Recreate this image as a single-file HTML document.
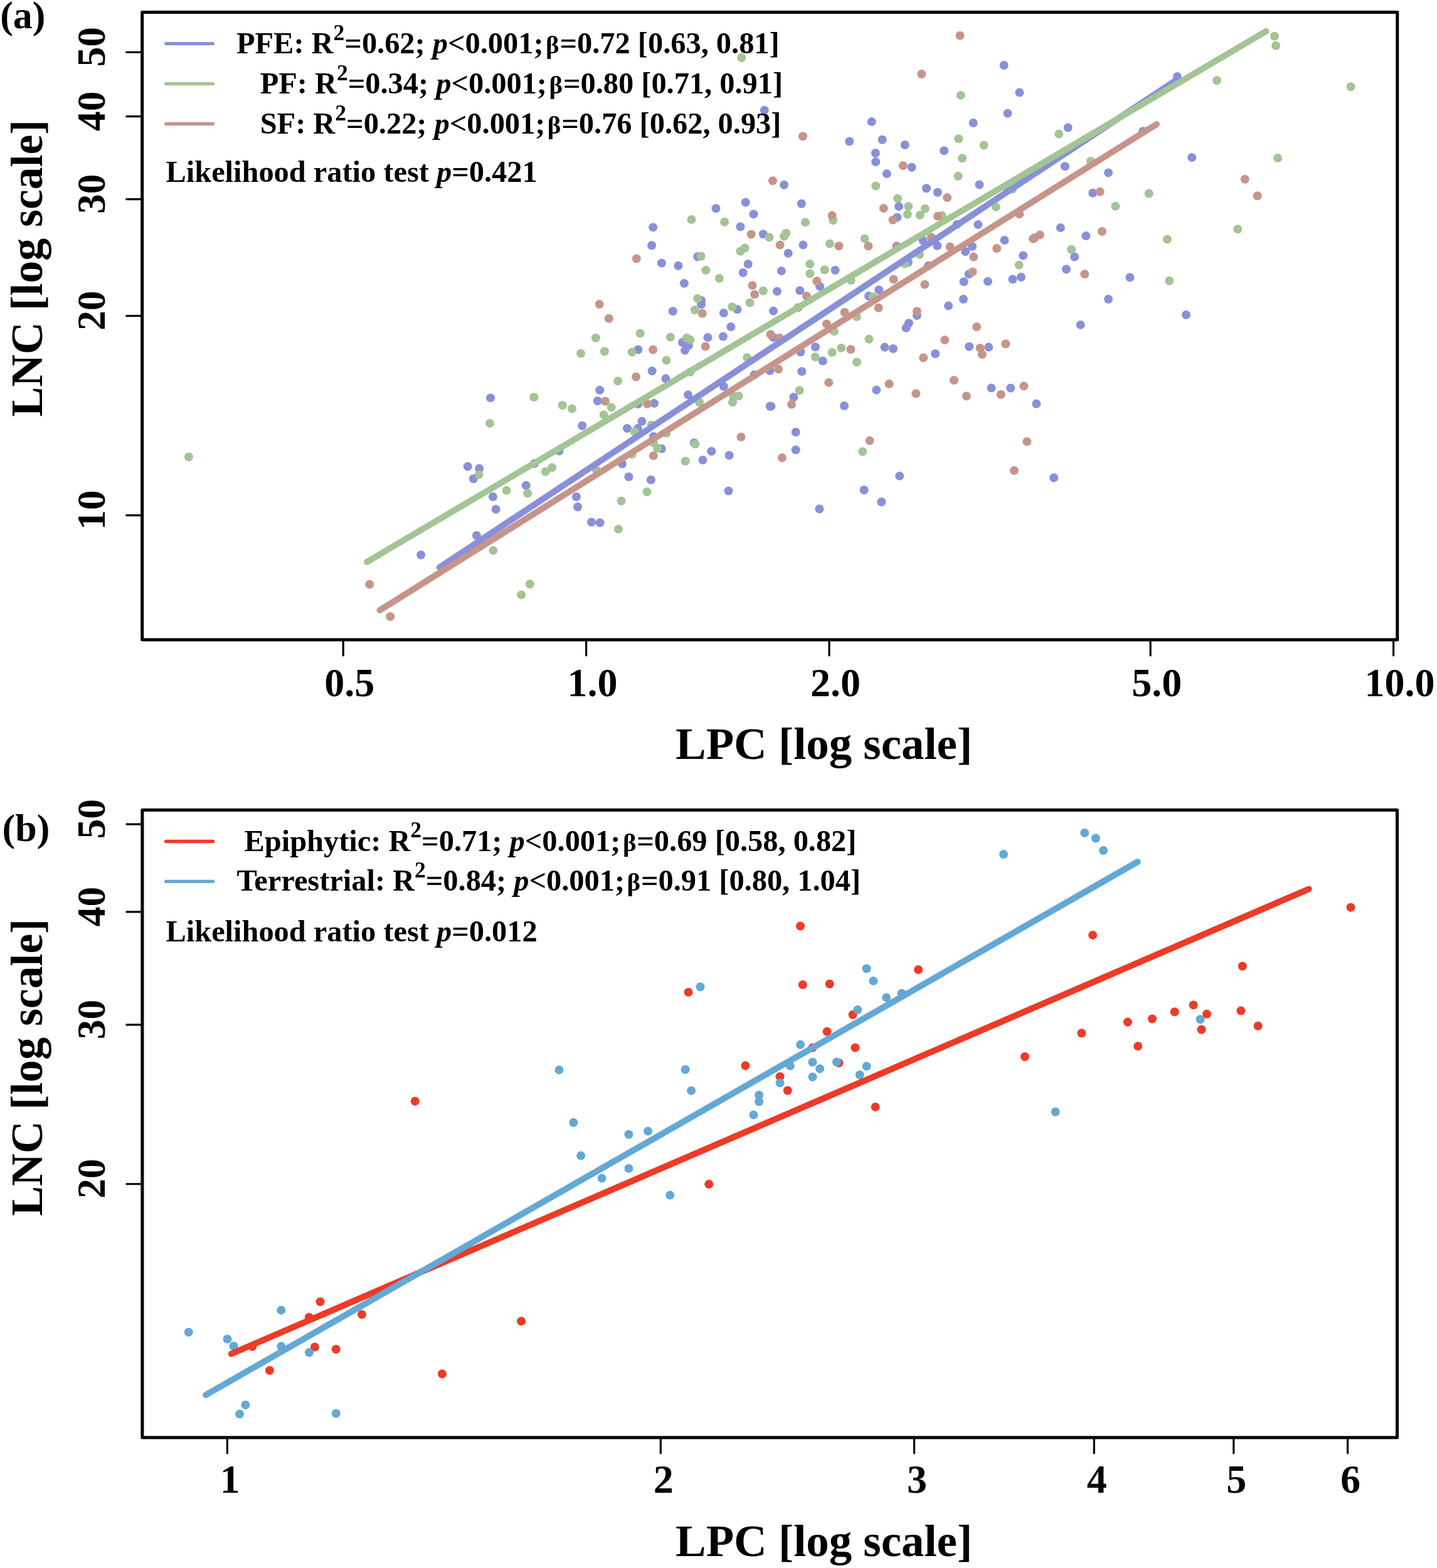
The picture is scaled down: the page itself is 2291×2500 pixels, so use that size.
<!DOCTYPE html><html><head><meta charset="utf-8"><title>LNC vs LPC</title><style>html,body{margin:0;padding:0;background:#fff;overflow:hidden}svg{display:block}</style></head><body><svg width="2291" height="2500" viewBox="0 0 2291 2500" font-family='"Liberation Serif", "Times New Roman", serif' font-weight="bold">
<rect width="2291" height="2500" fill="#fff"/>
<circle cx="671.1" cy="884.7" r="7.0" fill="#8890d9"/>
<circle cx="745.6" cy="743.7" r="7.0" fill="#8890d9"/>
<circle cx="764.2" cy="747.0" r="7.0" fill="#8890d9"/>
<circle cx="754.9" cy="763.2" r="7.0" fill="#8890d9"/>
<circle cx="785.9" cy="792.0" r="7.0" fill="#8890d9"/>
<circle cx="790.6" cy="812.0" r="7.0" fill="#8890d9"/>
<circle cx="838.7" cy="774.1" r="7.0" fill="#8890d9"/>
<circle cx="759.9" cy="853.8" r="7.0" fill="#8890d9"/>
<circle cx="851.9" cy="739.0" r="7.0" fill="#8890d9"/>
<circle cx="891.3" cy="719.1" r="7.0" fill="#8890d9"/>
<circle cx="918.9" cy="792.0" r="7.0" fill="#8890d9"/>
<circle cx="921.0" cy="808.3" r="7.0" fill="#8890d9"/>
<circle cx="943.0" cy="832.5" r="7.0" fill="#8890d9"/>
<circle cx="956.6" cy="833.4" r="7.0" fill="#8890d9"/>
<circle cx="782.0" cy="634.4" r="7.0" fill="#8890d9"/>
<circle cx="952.7" cy="639.2" r="7.0" fill="#8890d9"/>
<circle cx="928.2" cy="678.8" r="7.0" fill="#8890d9"/>
<circle cx="1184.7" cy="434.7" r="7.0" fill="#8890d9"/>
<circle cx="1245.8" cy="431.9" r="7.0" fill="#8890d9"/>
<circle cx="1331.6" cy="430.8" r="7.0" fill="#8890d9"/>
<circle cx="1090.9" cy="451.8" r="7.0" fill="#8890d9"/>
<circle cx="1307.1" cy="456.8" r="7.0" fill="#8890d9"/>
<circle cx="1238.9" cy="464.6" r="7.0" fill="#8890d9"/>
<circle cx="1275.2" cy="463.3" r="7.0" fill="#8890d9"/>
<circle cx="1118.0" cy="478.9" r="7.0" fill="#8890d9"/>
<circle cx="1118.0" cy="485.4" r="7.0" fill="#8890d9"/>
<circle cx="1175.4" cy="493.2" r="7.0" fill="#8890d9"/>
<circle cx="1072.8" cy="496.2" r="7.0" fill="#8890d9"/>
<circle cx="1153.8" cy="499.0" r="7.0" fill="#8890d9"/>
<circle cx="1233.0" cy="495.8" r="7.0" fill="#8890d9"/>
<circle cx="1165.2" cy="521.1" r="7.0" fill="#8890d9"/>
<circle cx="1087.9" cy="546.0" r="7.0" fill="#8890d9"/>
<circle cx="1097.7" cy="551.0" r="7.0" fill="#8890d9"/>
<circle cx="1092.0" cy="558.6" r="7.0" fill="#8890d9"/>
<circle cx="1128.4" cy="538.0" r="7.0" fill="#8890d9"/>
<circle cx="1152.9" cy="536.5" r="7.0" fill="#8890d9"/>
<circle cx="1232.8" cy="538.0" r="7.0" fill="#8890d9"/>
<circle cx="1299.9" cy="553.2" r="7.0" fill="#8890d9"/>
<circle cx="1276.3" cy="561.2" r="7.0" fill="#8890d9"/>
<circle cx="1311.8" cy="575.5" r="7.0" fill="#8890d9"/>
<circle cx="1017.3" cy="557.5" r="7.0" fill="#8890d9"/>
<circle cx="1039.6" cy="591.5" r="7.0" fill="#8890d9"/>
<circle cx="1061.3" cy="603.6" r="7.0" fill="#8890d9"/>
<circle cx="1227.4" cy="591.1" r="7.0" fill="#8890d9"/>
<circle cx="1202.5" cy="597.6" r="7.0" fill="#8890d9"/>
<circle cx="1278.3" cy="592.2" r="7.0" fill="#8890d9"/>
<circle cx="1153.8" cy="616.0" r="7.0" fill="#8890d9"/>
<circle cx="1097.0" cy="629.6" r="7.0" fill="#8890d9"/>
<circle cx="956.2" cy="622.1" r="7.0" fill="#8890d9"/>
<circle cx="1017.3" cy="644.1" r="7.0" fill="#8890d9"/>
<circle cx="1042.9" cy="643.1" r="7.0" fill="#8890d9"/>
<circle cx="1265.3" cy="633.3" r="7.0" fill="#8890d9"/>
<circle cx="1227.6" cy="647.7" r="7.0" fill="#8890d9"/>
<circle cx="1229.3" cy="647.7" r="7.0" fill="#8890d9"/>
<circle cx="1023.4" cy="671.7" r="7.0" fill="#8890d9"/>
<circle cx="1000.0" cy="683.1" r="7.0" fill="#8890d9"/>
<circle cx="1016.9" cy="683.1" r="7.0" fill="#8890d9"/>
<circle cx="1041.8" cy="696.1" r="7.0" fill="#8890d9"/>
<circle cx="1054.8" cy="715.6" r="7.0" fill="#8890d9"/>
<circle cx="1106.8" cy="705.9" r="7.0" fill="#8890d9"/>
<circle cx="1268.7" cy="689.0" r="7.0" fill="#8890d9"/>
<circle cx="992.0" cy="739.6" r="7.0" fill="#8890d9"/>
<circle cx="1134.3" cy="719.5" r="7.0" fill="#8890d9"/>
<circle cx="1162.6" cy="726.0" r="7.0" fill="#8890d9"/>
<circle cx="1120.4" cy="733.6" r="7.0" fill="#8890d9"/>
<circle cx="1268.7" cy="717.3" r="7.0" fill="#8890d9"/>
<circle cx="1002.4" cy="760.2" r="7.0" fill="#8890d9"/>
<circle cx="1037.9" cy="765.0" r="7.0" fill="#8890d9"/>
<circle cx="1161.5" cy="782.7" r="7.0" fill="#8890d9"/>
<circle cx="1306.4" cy="811.5" r="7.0" fill="#8890d9"/>
<circle cx="1218.7" cy="175.7" r="7.0" fill="#8890d9"/>
<circle cx="1250.1" cy="294.8" r="7.0" fill="#8890d9"/>
<circle cx="1188.6" cy="322.6" r="7.0" fill="#8890d9"/>
<circle cx="1277.8" cy="324.7" r="7.0" fill="#8890d9"/>
<circle cx="1141.4" cy="332.3" r="7.0" fill="#8890d9"/>
<circle cx="1201.4" cy="341.4" r="7.0" fill="#8890d9"/>
<circle cx="1041.1" cy="362.4" r="7.0" fill="#8890d9"/>
<circle cx="1180.4" cy="361.5" r="7.0" fill="#8890d9"/>
<circle cx="1216.8" cy="373.2" r="7.0" fill="#8890d9"/>
<circle cx="1039.0" cy="391.2" r="7.0" fill="#8890d9"/>
<circle cx="1280.4" cy="390.6" r="7.0" fill="#8890d9"/>
<circle cx="1256.6" cy="403.8" r="7.0" fill="#8890d9"/>
<circle cx="1112.2" cy="409.2" r="7.0" fill="#8890d9"/>
<circle cx="1054.8" cy="419.4" r="7.0" fill="#8890d9"/>
<circle cx="1081.4" cy="423.7" r="7.0" fill="#8890d9"/>
<circle cx="1192.7" cy="421.1" r="7.0" fill="#8890d9"/>
<circle cx="1625.4" cy="147.6" r="7.0" fill="#8890d9"/>
<circle cx="1606.5" cy="180.7" r="7.0" fill="#8890d9"/>
<circle cx="1389.7" cy="194.1" r="7.0" fill="#8890d9"/>
<circle cx="1551.7" cy="195.9" r="7.0" fill="#8890d9"/>
<circle cx="1702.7" cy="203.5" r="7.0" fill="#8890d9"/>
<circle cx="1354.2" cy="225.5" r="7.0" fill="#8890d9"/>
<circle cx="1406.6" cy="222.7" r="7.0" fill="#8890d9"/>
<circle cx="1442.8" cy="231.0" r="7.0" fill="#8890d9"/>
<circle cx="1505.2" cy="240.3" r="7.0" fill="#8890d9"/>
<circle cx="1395.8" cy="244.0" r="7.0" fill="#8890d9"/>
<circle cx="1396.2" cy="258.0" r="7.0" fill="#8890d9"/>
<circle cx="1453.6" cy="266.7" r="7.0" fill="#8890d9"/>
<circle cx="1413.8" cy="276.9" r="7.0" fill="#8890d9"/>
<circle cx="1697.9" cy="265.2" r="7.0" fill="#8890d9"/>
<circle cx="1561.5" cy="294.4" r="7.0" fill="#8890d9"/>
<circle cx="1477.0" cy="300.3" r="7.0" fill="#8890d9"/>
<circle cx="1494.8" cy="306.8" r="7.0" fill="#8890d9"/>
<circle cx="1607.0" cy="302.5" r="7.0" fill="#8890d9"/>
<circle cx="1433.0" cy="329.1" r="7.0" fill="#8890d9"/>
<circle cx="1430.4" cy="346.8" r="7.0" fill="#8890d9"/>
<circle cx="1525.7" cy="357.7" r="7.0" fill="#8890d9"/>
<circle cx="1559.3" cy="358.1" r="7.0" fill="#8890d9"/>
<circle cx="1690.8" cy="363.1" r="7.0" fill="#8890d9"/>
<circle cx="1471.6" cy="383.6" r="7.0" fill="#8890d9"/>
<circle cx="1494.3" cy="391.7" r="7.0" fill="#8890d9"/>
<circle cx="1550.0" cy="393.0" r="7.0" fill="#8890d9"/>
<circle cx="1539.2" cy="401.0" r="7.0" fill="#8890d9"/>
<circle cx="1601.5" cy="383.0" r="7.0" fill="#8890d9"/>
<circle cx="1649.2" cy="379.3" r="7.0" fill="#8890d9"/>
<circle cx="1447.8" cy="418.3" r="7.0" fill="#8890d9"/>
<circle cx="1480.3" cy="423.7" r="7.0" fill="#8890d9"/>
<circle cx="1631.2" cy="407.5" r="7.0" fill="#8890d9"/>
<circle cx="1713.1" cy="409.6" r="7.0" fill="#8890d9"/>
<circle cx="1700.0" cy="429.2" r="7.0" fill="#8890d9"/>
<circle cx="1544.7" cy="437.0" r="7.0" fill="#8890d9"/>
<circle cx="1536.6" cy="449.2" r="7.0" fill="#8890d9"/>
<circle cx="1574.9" cy="448.8" r="7.0" fill="#8890d9"/>
<circle cx="1614.5" cy="445.3" r="7.0" fill="#8890d9"/>
<circle cx="1628.0" cy="441.7" r="7.0" fill="#8890d9"/>
<circle cx="1401.2" cy="462.2" r="7.0" fill="#8890d9"/>
<circle cx="1385.0" cy="472.0" r="7.0" fill="#8890d9"/>
<circle cx="1535.9" cy="477.0" r="7.0" fill="#8890d9"/>
<circle cx="1512.1" cy="487.6" r="7.0" fill="#8890d9"/>
<circle cx="1461.9" cy="502.9" r="7.0" fill="#8890d9"/>
<circle cx="1448.9" cy="515.3" r="7.0" fill="#8890d9"/>
<circle cx="1444.5" cy="522.9" r="7.0" fill="#8890d9"/>
<circle cx="1410.5" cy="553.6" r="7.0" fill="#8890d9"/>
<circle cx="1424.0" cy="556.0" r="7.0" fill="#8890d9"/>
<circle cx="1545.2" cy="552.5" r="7.0" fill="#8890d9"/>
<circle cx="1576.2" cy="553.6" r="7.0" fill="#8890d9"/>
<circle cx="1491.1" cy="564.0" r="7.0" fill="#8890d9"/>
<circle cx="1397.3" cy="621.8" r="7.0" fill="#8890d9"/>
<circle cx="1580.5" cy="618.6" r="7.0" fill="#8890d9"/>
<circle cx="1611.3" cy="618.8" r="7.0" fill="#8890d9"/>
<circle cx="1652.4" cy="643.7" r="7.0" fill="#8890d9"/>
<circle cx="1346.0" cy="647.0" r="7.0" fill="#8890d9"/>
<circle cx="1434.1" cy="758.9" r="7.0" fill="#8890d9"/>
<circle cx="1377.6" cy="781.2" r="7.0" fill="#8890d9"/>
<circle cx="1405.3" cy="800.3" r="7.0" fill="#8890d9"/>
<circle cx="1680.2" cy="761.7" r="7.0" fill="#8890d9"/>
<circle cx="1822.4" cy="209.3" r="7.0" fill="#8890d9"/>
<circle cx="1767.1" cy="275.4" r="7.0" fill="#8890d9"/>
<circle cx="1900.3" cy="251.1" r="7.0" fill="#8890d9"/>
<circle cx="1742.2" cy="307.8" r="7.0" fill="#8890d9"/>
<circle cx="1731.4" cy="376.1" r="7.0" fill="#8890d9"/>
<circle cx="1801.4" cy="442.3" r="7.0" fill="#8890d9"/>
<circle cx="1767.1" cy="477.0" r="7.0" fill="#8890d9"/>
<circle cx="1891.0" cy="501.9" r="7.0" fill="#8890d9"/>
<circle cx="1722.7" cy="517.9" r="7.0" fill="#8890d9"/>
<circle cx="1600.6" cy="104.0" r="7.0" fill="#8890d9"/>
<circle cx="1876.9" cy="121.9" r="7.0" fill="#8890d9"/>
<circle cx="763.6" cy="756.7" r="7.0" fill="#a3c494"/>
<circle cx="807.5" cy="781.9" r="7.0" fill="#a3c494"/>
<circle cx="841.1" cy="786.6" r="7.0" fill="#a3c494"/>
<circle cx="786.3" cy="877.6" r="7.0" fill="#a3c494"/>
<circle cx="844.8" cy="931.3" r="7.0" fill="#a3c494"/>
<circle cx="831.1" cy="948.4" r="7.0" fill="#a3c494"/>
<circle cx="869.7" cy="752.0" r="7.0" fill="#a3c494"/>
<circle cx="880.1" cy="745.5" r="7.0" fill="#a3c494"/>
<circle cx="950.9" cy="749.8" r="7.0" fill="#a3c494"/>
<circle cx="949.8" cy="538.7" r="7.0" fill="#a3c494"/>
<circle cx="926.0" cy="563.6" r="7.0" fill="#a3c494"/>
<circle cx="851.3" cy="633.3" r="7.0" fill="#a3c494"/>
<circle cx="896.8" cy="646.3" r="7.0" fill="#a3c494"/>
<circle cx="911.9" cy="651.7" r="7.0" fill="#a3c494"/>
<circle cx="780.9" cy="674.9" r="7.0" fill="#a3c494"/>
<circle cx="1125.2" cy="430.8" r="7.0" fill="#a3c494"/>
<circle cx="1291.3" cy="436.2" r="7.0" fill="#a3c494"/>
<circle cx="1314.7" cy="430.2" r="7.0" fill="#a3c494"/>
<circle cx="1146.8" cy="443.8" r="7.0" fill="#a3c494"/>
<circle cx="1216.8" cy="463.7" r="7.0" fill="#a3c494"/>
<circle cx="1112.2" cy="475.9" r="7.0" fill="#a3c494"/>
<circle cx="1195.5" cy="482.8" r="7.0" fill="#a3c494"/>
<circle cx="1167.4" cy="489.3" r="7.0" fill="#a3c494"/>
<circle cx="1107.8" cy="494.3" r="7.0" fill="#a3c494"/>
<circle cx="1020.6" cy="531.5" r="7.0" fill="#a3c494"/>
<circle cx="1068.9" cy="537.6" r="7.0" fill="#a3c494"/>
<circle cx="1094.8" cy="538.7" r="7.0" fill="#a3c494"/>
<circle cx="1100.3" cy="541.7" r="7.0" fill="#a3c494"/>
<circle cx="1329.8" cy="528.3" r="7.0" fill="#a3c494"/>
<circle cx="1326.6" cy="561.9" r="7.0" fill="#a3c494"/>
<circle cx="1299.9" cy="569.0" r="7.0" fill="#a3c494"/>
<circle cx="963.8" cy="560.3" r="7.0" fill="#a3c494"/>
<circle cx="1007.6" cy="561.4" r="7.0" fill="#a3c494"/>
<circle cx="1062.4" cy="574.4" r="7.0" fill="#a3c494"/>
<circle cx="1191.2" cy="570.1" r="7.0" fill="#a3c494"/>
<circle cx="985.0" cy="607.5" r="7.0" fill="#a3c494"/>
<circle cx="1100.3" cy="593.3" r="7.0" fill="#a3c494"/>
<circle cx="1274.6" cy="622.5" r="7.0" fill="#a3c494"/>
<circle cx="974.7" cy="649.6" r="7.0" fill="#a3c494"/>
<circle cx="1115.0" cy="641.3" r="7.0" fill="#a3c494"/>
<circle cx="1169.1" cy="631.2" r="7.0" fill="#a3c494"/>
<circle cx="1177.6" cy="631.2" r="7.0" fill="#a3c494"/>
<circle cx="1168.0" cy="641.3" r="7.0" fill="#a3c494"/>
<circle cx="962.7" cy="661.5" r="7.0" fill="#a3c494"/>
<circle cx="1011.5" cy="688.5" r="7.0" fill="#a3c494"/>
<circle cx="1038.5" cy="677.7" r="7.0" fill="#a3c494"/>
<circle cx="1062.4" cy="690.7" r="7.0" fill="#a3c494"/>
<circle cx="1041.8" cy="705.9" r="7.0" fill="#a3c494"/>
<circle cx="1048.3" cy="714.5" r="7.0" fill="#a3c494"/>
<circle cx="1108.3" cy="708.0" r="7.0" fill="#a3c494"/>
<circle cx="1007.6" cy="724.3" r="7.0" fill="#a3c494"/>
<circle cx="1092.7" cy="735.3" r="7.0" fill="#a3c494"/>
<circle cx="1031.4" cy="784.0" r="7.0" fill="#a3c494"/>
<circle cx="990.5" cy="798.8" r="7.0" fill="#a3c494"/>
<circle cx="985.9" cy="843.6" r="7.0" fill="#a3c494"/>
<circle cx="1328.1" cy="351.2" r="7.0" fill="#a3c494"/>
<circle cx="1102.4" cy="350.1" r="7.0" fill="#a3c494"/>
<circle cx="1155.1" cy="354.0" r="7.0" fill="#a3c494"/>
<circle cx="1283.9" cy="354.4" r="7.0" fill="#a3c494"/>
<circle cx="1226.5" cy="378.2" r="7.0" fill="#a3c494"/>
<circle cx="1253.4" cy="371.7" r="7.0" fill="#a3c494"/>
<circle cx="1250.1" cy="376.7" r="7.0" fill="#a3c494"/>
<circle cx="1322.9" cy="388.6" r="7.0" fill="#a3c494"/>
<circle cx="1187.5" cy="395.5" r="7.0" fill="#a3c494"/>
<circle cx="1180.4" cy="400.5" r="7.0" fill="#a3c494"/>
<circle cx="1117.6" cy="408.5" r="7.0" fill="#a3c494"/>
<circle cx="1291.3" cy="420.9" r="7.0" fill="#a3c494"/>
<circle cx="1531.8" cy="151.9" r="7.0" fill="#a3c494"/>
<circle cx="1688.2" cy="213.6" r="7.0" fill="#a3c494"/>
<circle cx="1528.3" cy="221.2" r="7.0" fill="#a3c494"/>
<circle cx="1568.6" cy="231.4" r="7.0" fill="#a3c494"/>
<circle cx="1534.0" cy="252.2" r="7.0" fill="#a3c494"/>
<circle cx="1527.5" cy="280.8" r="7.0" fill="#a3c494"/>
<circle cx="1396.2" cy="296.4" r="7.0" fill="#a3c494"/>
<circle cx="1614.0" cy="301.5" r="7.0" fill="#a3c494"/>
<circle cx="1431.1" cy="316.5" r="7.0" fill="#a3c494"/>
<circle cx="1448.2" cy="329.1" r="7.0" fill="#a3c494"/>
<circle cx="1474.8" cy="332.7" r="7.0" fill="#a3c494"/>
<circle cx="1446.7" cy="341.8" r="7.0" fill="#a3c494"/>
<circle cx="1466.8" cy="343.1" r="7.0" fill="#a3c494"/>
<circle cx="1501.5" cy="343.6" r="7.0" fill="#a3c494"/>
<circle cx="1587.9" cy="329.9" r="7.0" fill="#a3c494"/>
<circle cx="1378.5" cy="380.4" r="7.0" fill="#a3c494"/>
<circle cx="1466.2" cy="405.9" r="7.0" fill="#a3c494"/>
<circle cx="1442.4" cy="420.5" r="7.0" fill="#a3c494"/>
<circle cx="1708.1" cy="397.7" r="7.0" fill="#a3c494"/>
<circle cx="1624.7" cy="422.6" r="7.0" fill="#a3c494"/>
<circle cx="1356.8" cy="447.1" r="7.0" fill="#a3c494"/>
<circle cx="1391.5" cy="473.1" r="7.0" fill="#a3c494"/>
<circle cx="1365.9" cy="505.1" r="7.0" fill="#a3c494"/>
<circle cx="1385.4" cy="540.8" r="7.0" fill="#a3c494"/>
<circle cx="1341.2" cy="554.7" r="7.0" fill="#a3c494"/>
<circle cx="1366.1" cy="577.4" r="7.0" fill="#a3c494"/>
<circle cx="1375.2" cy="720.1" r="7.0" fill="#a3c494"/>
<circle cx="1739.0" cy="256.9" r="7.0" fill="#a3c494"/>
<circle cx="2037.2" cy="252.0" r="7.0" fill="#a3c494"/>
<circle cx="1831.7" cy="308.5" r="7.0" fill="#a3c494"/>
<circle cx="1778.4" cy="328.8" r="7.0" fill="#a3c494"/>
<circle cx="1973.3" cy="365.2" r="7.0" fill="#a3c494"/>
<circle cx="1860.9" cy="381.5" r="7.0" fill="#a3c494"/>
<circle cx="1864.2" cy="447.7" r="7.0" fill="#a3c494"/>
<circle cx="1940.0" cy="128.2" r="7.0" fill="#a3c494"/>
<circle cx="2032.0" cy="57.7" r="7.0" fill="#a3c494"/>
<circle cx="2034.1" cy="72.7" r="7.0" fill="#a3c494"/>
<circle cx="2153.5" cy="138.3" r="7.0" fill="#a3c494"/>
<circle cx="1182.2" cy="92.0" r="7.0" fill="#a3c494"/>
<circle cx="300.9" cy="728.5" r="7.0" fill="#a3c494"/>
<circle cx="589.2" cy="931.7" r="7.0" fill="#c6958a"/>
<circle cx="622.2" cy="983.1" r="7.0" fill="#c6958a"/>
<circle cx="1199.4" cy="455.1" r="7.0" fill="#c6958a"/>
<circle cx="1302.3" cy="448.2" r="7.0" fill="#c6958a"/>
<circle cx="1203.1" cy="469.4" r="7.0" fill="#c6958a"/>
<circle cx="1285.9" cy="472.0" r="7.0" fill="#c6958a"/>
<circle cx="955.6" cy="485.0" r="7.0" fill="#c6958a"/>
<circle cx="1119.8" cy="499.7" r="7.0" fill="#c6958a"/>
<circle cx="1272.4" cy="490.4" r="7.0" fill="#c6958a"/>
<circle cx="970.8" cy="507.7" r="7.0" fill="#c6958a"/>
<circle cx="1124.7" cy="552.5" r="7.0" fill="#c6958a"/>
<circle cx="1228.5" cy="533.0" r="7.0" fill="#c6958a"/>
<circle cx="1242.8" cy="538.7" r="7.0" fill="#c6958a"/>
<circle cx="1317.9" cy="516.4" r="7.0" fill="#c6958a"/>
<circle cx="1041.1" cy="557.5" r="7.0" fill="#c6958a"/>
<circle cx="1014.1" cy="600.8" r="7.0" fill="#c6958a"/>
<circle cx="1241.0" cy="588.5" r="7.0" fill="#c6958a"/>
<circle cx="1321.2" cy="609.9" r="7.0" fill="#c6958a"/>
<circle cx="964.9" cy="639.8" r="7.0" fill="#c6958a"/>
<circle cx="1032.0" cy="644.1" r="7.0" fill="#c6958a"/>
<circle cx="1262.0" cy="644.8" r="7.0" fill="#c6958a"/>
<circle cx="1181.5" cy="696.8" r="7.0" fill="#c6958a"/>
<circle cx="1041.8" cy="726.6" r="7.0" fill="#c6958a"/>
<circle cx="1246.9" cy="729.9" r="7.0" fill="#c6958a"/>
<circle cx="1280.0" cy="217.3" r="7.0" fill="#c6958a"/>
<circle cx="1231.9" cy="288.3" r="7.0" fill="#c6958a"/>
<circle cx="1326.6" cy="343.6" r="7.0" fill="#c6958a"/>
<circle cx="1197.7" cy="373.5" r="7.0" fill="#c6958a"/>
<circle cx="1243.6" cy="390.6" r="7.0" fill="#c6958a"/>
<circle cx="1337.4" cy="392.3" r="7.0" fill="#c6958a"/>
<circle cx="1014.7" cy="412.4" r="7.0" fill="#c6958a"/>
<circle cx="1439.8" cy="264.1" r="7.0" fill="#c6958a"/>
<circle cx="1510.1" cy="315.0" r="7.0" fill="#c6958a"/>
<circle cx="1408.8" cy="332.1" r="7.0" fill="#c6958a"/>
<circle cx="1423.5" cy="350.7" r="7.0" fill="#c6958a"/>
<circle cx="1495.0" cy="344.7" r="7.0" fill="#c6958a"/>
<circle cx="1625.4" cy="341.4" r="7.0" fill="#c6958a"/>
<circle cx="1384.3" cy="392.3" r="7.0" fill="#c6958a"/>
<circle cx="1429.4" cy="392.3" r="7.0" fill="#c6958a"/>
<circle cx="1484.6" cy="378.2" r="7.0" fill="#c6958a"/>
<circle cx="1514.5" cy="393.4" r="7.0" fill="#c6958a"/>
<circle cx="1552.2" cy="409.6" r="7.0" fill="#c6958a"/>
<circle cx="1589.2" cy="396.0" r="7.0" fill="#c6958a"/>
<circle cx="1647.0" cy="380.8" r="7.0" fill="#c6958a"/>
<circle cx="1657.8" cy="374.5" r="7.0" fill="#c6958a"/>
<circle cx="1550.6" cy="433.4" r="7.0" fill="#c6958a"/>
<circle cx="1424.6" cy="445.3" r="7.0" fill="#c6958a"/>
<circle cx="1474.4" cy="453.6" r="7.0" fill="#c6958a"/>
<circle cx="1400.6" cy="490.8" r="7.0" fill="#c6958a"/>
<circle cx="1346.6" cy="498.0" r="7.0" fill="#c6958a"/>
<circle cx="1461.9" cy="496.4" r="7.0" fill="#c6958a"/>
<circle cx="1557.1" cy="521.1" r="7.0" fill="#c6958a"/>
<circle cx="1506.2" cy="541.9" r="7.0" fill="#c6958a"/>
<circle cx="1356.4" cy="557.1" r="7.0" fill="#c6958a"/>
<circle cx="1562.6" cy="554.9" r="7.0" fill="#c6958a"/>
<circle cx="1565.8" cy="565.1" r="7.0" fill="#c6958a"/>
<circle cx="1603.3" cy="548.2" r="7.0" fill="#c6958a"/>
<circle cx="1472.2" cy="570.5" r="7.0" fill="#c6958a"/>
<circle cx="1417.5" cy="612.1" r="7.0" fill="#c6958a"/>
<circle cx="1460.3" cy="627.5" r="7.0" fill="#c6958a"/>
<circle cx="1521.0" cy="606.2" r="7.0" fill="#c6958a"/>
<circle cx="1540.9" cy="631.6" r="7.0" fill="#c6958a"/>
<circle cx="1595.7" cy="629.0" r="7.0" fill="#c6958a"/>
<circle cx="1632.3" cy="615.6" r="7.0" fill="#c6958a"/>
<circle cx="1386.5" cy="702.6" r="7.0" fill="#c6958a"/>
<circle cx="1637.3" cy="704.1" r="7.0" fill="#c6958a"/>
<circle cx="1616.9" cy="750.2" r="7.0" fill="#c6958a"/>
<circle cx="1984.8" cy="285.7" r="7.0" fill="#c6958a"/>
<circle cx="2004.7" cy="312.2" r="7.0" fill="#c6958a"/>
<circle cx="1753.7" cy="305.7" r="7.0" fill="#c6958a"/>
<circle cx="1757.0" cy="369.1" r="7.0" fill="#c6958a"/>
<circle cx="1729.3" cy="437.1" r="7.0" fill="#c6958a"/>
<circle cx="1530.5" cy="56.7" r="7.0" fill="#c6958a"/>
<circle cx="1469.3" cy="118.1" r="7.0" fill="#c6958a"/>
<line x1="700.8" y1="904.6" x2="1877" y2="126.6" stroke="#8890d9" stroke-width="10.0" stroke-linecap="round"/>
<line x1="584.9" y1="896.0" x2="2018.6" y2="49.8" stroke="#a3c494" stroke-width="10.0" stroke-linecap="round"/>
<line x1="605.5" y1="972.9" x2="1844.0" y2="198.0" stroke="#c6958a" stroke-width="10.0" stroke-linecap="round"/>
<rect x="226.70" y="19.60" width="2001.10" height="1000.40" fill="none" stroke="#000" stroke-width="5.0" stroke-linejoin="round"/>
<line x1="547.17" y1="1020.00" x2="547.17" y2="1045.00" stroke="#000" stroke-width="3.2" stroke-linecap="round"/>
<text x="557.17" y="1110.10" font-size="64" text-anchor="middle">0.5</text>
<line x1="934.60" y1="1020.00" x2="934.60" y2="1045.00" stroke="#000" stroke-width="3.2" stroke-linecap="round"/>
<text x="944.60" y="1110.10" font-size="64" text-anchor="middle">1.0</text>
<line x1="1322.03" y1="1020.00" x2="1322.03" y2="1045.00" stroke="#000" stroke-width="3.2" stroke-linecap="round"/>
<text x="1332.03" y="1110.10" font-size="64" text-anchor="middle">2.0</text>
<line x1="1834.17" y1="1020.00" x2="1834.17" y2="1045.00" stroke="#000" stroke-width="3.2" stroke-linecap="round"/>
<text x="1844.17" y="1110.10" font-size="64" text-anchor="middle">5.0</text>
<line x1="2221.60" y1="1020.00" x2="2221.60" y2="1045.00" stroke="#000" stroke-width="3.2" stroke-linecap="round"/>
<text x="2231.60" y="1110.10" font-size="64" text-anchor="middle">10.0</text>
<line x1="226.70" y1="821.70" x2="201.70" y2="821.70" stroke="#000" stroke-width="3.2" stroke-linecap="round"/>
<text transform="translate(166.80,813.30) rotate(-90)" font-size="63.5" text-anchor="middle">10</text>
<line x1="226.70" y1="503.66" x2="201.70" y2="503.66" stroke="#000" stroke-width="3.2" stroke-linecap="round"/>
<text transform="translate(166.80,495.26) rotate(-90)" font-size="63.5" text-anchor="middle">20</text>
<line x1="226.70" y1="317.62" x2="201.70" y2="317.62" stroke="#000" stroke-width="3.2" stroke-linecap="round"/>
<text transform="translate(166.80,309.22) rotate(-90)" font-size="63.5" text-anchor="middle">30</text>
<line x1="226.70" y1="185.62" x2="201.70" y2="185.62" stroke="#000" stroke-width="3.2" stroke-linecap="round"/>
<text transform="translate(166.80,177.22) rotate(-90)" font-size="63.5" text-anchor="middle">40</text>
<line x1="226.70" y1="83.24" x2="201.70" y2="83.24" stroke="#000" stroke-width="3.2" stroke-linecap="round"/>
<text transform="translate(166.80,74.84) rotate(-90)" font-size="63.5" text-anchor="middle">50</text>
<text x="0.2" y="45.3" font-size="62">(a)</text>
<text x="1077.1" y="1210.2" font-size="72.8">LPC [log scale]</text>
<text transform="translate(66.6,664.6) rotate(-90)" font-size="71.7">LNC [log scale]</text>
<line x1="264.7" y1="69.6" x2="339.4" y2="69.6" stroke="#8890d9" stroke-width="5.4" stroke-linecap="round"/>
<line x1="264.7" y1="133.6" x2="339.4" y2="133.6" stroke="#a3c494" stroke-width="5.4" stroke-linecap="round"/>
<line x1="264.7" y1="197.5" x2="339.4" y2="197.5" stroke="#c6958a" stroke-width="5.4" stroke-linecap="round"/>
<text x="377.0" y="85.0" font-size="48.4">PFE: R<tspan font-size="35.5" dy="-21.5">2</tspan><tspan dy="21.5">=0.62; </tspan><tspan font-style="italic">p</tspan>&lt;0.001;<tspan font-size="41" dx="3.5">β</tspan><tspan dx="0.8">=0.72 [0.63, 0.81]</tspan></text>
<text x="414.7" y="149.0" font-size="48.4">PF: R<tspan font-size="35.5" dy="-21.5">2</tspan><tspan dy="21.5">=0.34; </tspan><tspan font-style="italic">p</tspan>&lt;0.001;<tspan font-size="41" dx="3.5">β</tspan><tspan dx="0.8">=0.80 [0.71, 0.91]</tspan></text>
<text x="414.7" y="213.0" font-size="48.4">SF: R<tspan font-size="35.5" dy="-21.5">2</tspan><tspan dy="21.5">=0.22; </tspan><tspan font-style="italic">p</tspan>&lt;0.001;<tspan font-size="41" dx="3.5">β</tspan><tspan dx="0.8">=0.76 [0.62, 0.93]</tspan></text>
<text x="264.5" y="290" font-size="48.4">Likelihood ratio test <tspan font-style="italic">p</tspan>=0.421</text>
<circle cx="402.3" cy="2147.1" r="7.0" fill="#ee3a26"/>
<circle cx="492.9" cy="2100.3" r="7.0" fill="#ee3a26"/>
<circle cx="510.5" cy="2075.4" r="7.0" fill="#ee3a26"/>
<circle cx="501.9" cy="2147.7" r="7.0" fill="#ee3a26"/>
<circle cx="535.7" cy="2151.2" r="7.0" fill="#ee3a26"/>
<circle cx="576.9" cy="2095.7" r="7.0" fill="#ee3a26"/>
<circle cx="429.9" cy="2185.0" r="7.0" fill="#ee3a26"/>
<circle cx="704.9" cy="2190.5" r="7.0" fill="#ee3a26"/>
<circle cx="831.1" cy="2106.5" r="7.0" fill="#ee3a26"/>
<circle cx="1188.4" cy="1699.1" r="7.0" fill="#ee3a26"/>
<circle cx="1130.2" cy="1888.0" r="7.0" fill="#ee3a26"/>
<circle cx="1279.8" cy="1570.0" r="7.0" fill="#ee3a26"/>
<circle cx="1322.6" cy="1568.7" r="7.0" fill="#ee3a26"/>
<circle cx="1359.6" cy="1617.7" r="7.0" fill="#ee3a26"/>
<circle cx="1318.5" cy="1644.7" r="7.0" fill="#ee3a26"/>
<circle cx="1295.5" cy="1670.4" r="7.0" fill="#ee3a26"/>
<circle cx="1363.4" cy="1670.4" r="7.0" fill="#ee3a26"/>
<circle cx="1337.4" cy="1694.8" r="7.0" fill="#ee3a26"/>
<circle cx="1243.5" cy="1716.5" r="7.0" fill="#ee3a26"/>
<circle cx="1255.7" cy="1738.7" r="7.0" fill="#ee3a26"/>
<circle cx="1395.6" cy="1764.9" r="7.0" fill="#ee3a26"/>
<circle cx="1276.0" cy="1476.5" r="7.0" fill="#ee3a26"/>
<circle cx="1464.1" cy="1546.1" r="7.0" fill="#ee3a26"/>
<circle cx="1742.1" cy="1490.9" r="7.0" fill="#ee3a26"/>
<circle cx="2153.5" cy="1446.7" r="7.0" fill="#ee3a26"/>
<circle cx="1980.8" cy="1540.5" r="7.0" fill="#ee3a26"/>
<circle cx="1902.6" cy="1602.4" r="7.0" fill="#ee3a26"/>
<circle cx="1872.7" cy="1613.3" r="7.0" fill="#ee3a26"/>
<circle cx="1924.0" cy="1616.7" r="7.0" fill="#ee3a26"/>
<circle cx="1978.4" cy="1611.6" r="7.0" fill="#ee3a26"/>
<circle cx="1837.0" cy="1624.5" r="7.0" fill="#ee3a26"/>
<circle cx="1797.9" cy="1629.6" r="7.0" fill="#ee3a26"/>
<circle cx="1915.5" cy="1641.5" r="7.0" fill="#ee3a26"/>
<circle cx="2005.6" cy="1635.7" r="7.0" fill="#ee3a26"/>
<circle cx="1724.4" cy="1647.3" r="7.0" fill="#ee3a26"/>
<circle cx="1814.2" cy="1668.0" r="7.0" fill="#ee3a26"/>
<circle cx="1634.0" cy="1684.7" r="7.0" fill="#ee3a26"/>
<circle cx="661.7" cy="1755.7" r="7.0" fill="#ee3a26"/>
<circle cx="1097.5" cy="1581.9" r="7.0" fill="#ee3a26"/>
<circle cx="300.7" cy="2124.1" r="7.0" fill="#63a8d6"/>
<circle cx="362.5" cy="2135.0" r="7.0" fill="#63a8d6"/>
<circle cx="372.5" cy="2146.3" r="7.0" fill="#63a8d6"/>
<circle cx="448.3" cy="2088.9" r="7.0" fill="#63a8d6"/>
<circle cx="448.3" cy="2146.6" r="7.0" fill="#63a8d6"/>
<circle cx="492.9" cy="2156.6" r="7.0" fill="#63a8d6"/>
<circle cx="391.4" cy="2240.0" r="7.0" fill="#63a8d6"/>
<circle cx="382.0" cy="2254.6" r="7.0" fill="#63a8d6"/>
<circle cx="535.7" cy="2253.5" r="7.0" fill="#63a8d6"/>
<circle cx="891.4" cy="1705.9" r="7.0" fill="#63a8d6"/>
<circle cx="1092.6" cy="1705.3" r="7.0" fill="#63a8d6"/>
<circle cx="1102.0" cy="1738.9" r="7.0" fill="#63a8d6"/>
<circle cx="1210.1" cy="1745.9" r="7.0" fill="#63a8d6"/>
<circle cx="1210.1" cy="1756.5" r="7.0" fill="#63a8d6"/>
<circle cx="1201.4" cy="1777.6" r="7.0" fill="#63a8d6"/>
<circle cx="914.4" cy="1789.8" r="7.0" fill="#63a8d6"/>
<circle cx="1002.4" cy="1808.7" r="7.0" fill="#63a8d6"/>
<circle cx="1033.0" cy="1803.6" r="7.0" fill="#63a8d6"/>
<circle cx="926.1" cy="1842.6" r="7.0" fill="#63a8d6"/>
<circle cx="1002.4" cy="1862.9" r="7.0" fill="#63a8d6"/>
<circle cx="959.6" cy="1878.6" r="7.0" fill="#63a8d6"/>
<circle cx="1068.2" cy="1905.6" r="7.0" fill="#63a8d6"/>
<circle cx="1392.4" cy="1564.1" r="7.0" fill="#63a8d6"/>
<circle cx="1413.2" cy="1590.6" r="7.0" fill="#63a8d6"/>
<circle cx="1437.6" cy="1583.8" r="7.0" fill="#63a8d6"/>
<circle cx="1367.2" cy="1610.1" r="7.0" fill="#63a8d6"/>
<circle cx="1276.0" cy="1665.6" r="7.0" fill="#63a8d6"/>
<circle cx="1259.8" cy="1699.4" r="7.0" fill="#63a8d6"/>
<circle cx="1295.5" cy="1693.5" r="7.0" fill="#63a8d6"/>
<circle cx="1307.1" cy="1704.0" r="7.0" fill="#63a8d6"/>
<circle cx="1333.9" cy="1693.2" r="7.0" fill="#63a8d6"/>
<circle cx="1381.6" cy="1700.0" r="7.0" fill="#63a8d6"/>
<circle cx="1370.7" cy="1713.8" r="7.0" fill="#63a8d6"/>
<circle cx="1295.5" cy="1717.0" r="7.0" fill="#63a8d6"/>
<circle cx="1243.5" cy="1726.5" r="7.0" fill="#63a8d6"/>
<circle cx="1600.0" cy="1362.0" r="7.0" fill="#63a8d6"/>
<circle cx="1381.6" cy="1544.2" r="7.0" fill="#63a8d6"/>
<circle cx="1729.2" cy="1328.0" r="7.0" fill="#63a8d6"/>
<circle cx="1746.9" cy="1336.5" r="7.0" fill="#63a8d6"/>
<circle cx="1759.1" cy="1355.9" r="7.0" fill="#63a8d6"/>
<circle cx="1913.5" cy="1625.2" r="7.0" fill="#63a8d6"/>
<circle cx="1682.6" cy="1772.8" r="7.0" fill="#63a8d6"/>
<circle cx="1116.5" cy="1573.5" r="7.0" fill="#63a8d6"/>
<line x1="368.8" y1="2158.5" x2="2086.6" y2="1417.5" stroke="#ee3a26" stroke-width="10.0" stroke-linecap="round"/>
<line x1="328.2" y1="2224.0" x2="1813.7" y2="1374.1" stroke="#63a8d6" stroke-width="10.0" stroke-linecap="round"/>
<rect x="226.90" y="1291.40" width="2000.60" height="1000.50" fill="none" stroke="#000" stroke-width="5.0" stroke-linejoin="round"/>
<line x1="362.30" y1="2291.90" x2="362.30" y2="2316.90" stroke="#000" stroke-width="3.2" stroke-linecap="round"/>
<text x="366.80" y="2380.30" font-size="64" text-anchor="middle">1</text>
<line x1="1053.31" y1="2291.90" x2="1053.31" y2="2316.90" stroke="#000" stroke-width="3.2" stroke-linecap="round"/>
<text x="1057.81" y="2380.30" font-size="64" text-anchor="middle">2</text>
<line x1="1457.53" y1="2291.90" x2="1457.53" y2="2316.90" stroke="#000" stroke-width="3.2" stroke-linecap="round"/>
<text x="1462.03" y="2380.30" font-size="64" text-anchor="middle">3</text>
<line x1="1744.33" y1="2291.90" x2="1744.33" y2="2316.90" stroke="#000" stroke-width="3.2" stroke-linecap="round"/>
<text x="1748.83" y="2380.30" font-size="64" text-anchor="middle">4</text>
<line x1="1966.79" y1="2291.90" x2="1966.79" y2="2316.90" stroke="#000" stroke-width="3.2" stroke-linecap="round"/>
<text x="1971.29" y="2380.30" font-size="64" text-anchor="middle">5</text>
<line x1="2148.55" y1="2291.90" x2="2148.55" y2="2316.90" stroke="#000" stroke-width="3.2" stroke-linecap="round"/>
<text x="2153.05" y="2380.30" font-size="64" text-anchor="middle">6</text>
<line x1="226.90" y1="1887.73" x2="201.90" y2="1887.73" stroke="#000" stroke-width="3.2" stroke-linecap="round"/>
<text transform="translate(166.80,1879.33) rotate(-90)" font-size="63.5" text-anchor="middle">20</text>
<line x1="226.90" y1="1633.90" x2="201.90" y2="1633.90" stroke="#000" stroke-width="3.2" stroke-linecap="round"/>
<text transform="translate(166.80,1625.50) rotate(-90)" font-size="63.5" text-anchor="middle">30</text>
<line x1="226.90" y1="1453.80" x2="201.90" y2="1453.80" stroke="#000" stroke-width="3.2" stroke-linecap="round"/>
<text transform="translate(166.80,1445.40) rotate(-90)" font-size="63.5" text-anchor="middle">40</text>
<line x1="226.90" y1="1314.10" x2="201.90" y2="1314.10" stroke="#000" stroke-width="3.2" stroke-linecap="round"/>
<text transform="translate(166.80,1305.70) rotate(-90)" font-size="63.5" text-anchor="middle">50</text>
<text x="3.5" y="1341" font-size="62">(b)</text>
<text x="1077.1" y="2481.3" font-size="72.8">LPC [log scale]</text>
<text transform="translate(66.6,1938.7) rotate(-90)" font-size="71.7">LNC [log scale]</text>
<line x1="264.7" y1="1341.5" x2="339.4" y2="1341.5" stroke="#ee3a26" stroke-width="5.4" stroke-linecap="round"/>
<line x1="264.7" y1="1405.4" x2="339.4" y2="1405.4" stroke="#63a8d6" stroke-width="5.4" stroke-linecap="round"/>
<text x="389.5" y="1356.6" font-size="48.4">Epiphytic: R<tspan font-size="35.5" dy="-21.5">2</tspan><tspan dy="21.5">=0.71; </tspan><tspan font-style="italic">p</tspan>&lt;0.001;<tspan font-size="41" dx="3.5">β</tspan><tspan dx="0.8">=0.69 [0.58, 0.82]</tspan></text>
<text x="377.5" y="1420.4" font-size="48.4">Terrestrial: R<tspan font-size="35.5" dy="-21.5">2</tspan><tspan dy="21.5">=0.84; </tspan><tspan font-style="italic">p</tspan>&lt;0.001;<tspan font-size="41" dx="3.5">β</tspan><tspan dx="0.8">=0.91 [0.80, 1.04]</tspan></text>
<text x="264.5" y="1501.4" font-size="48.4">Likelihood ratio test <tspan font-style="italic">p</tspan>=0.012</text>
</svg></body></html>
